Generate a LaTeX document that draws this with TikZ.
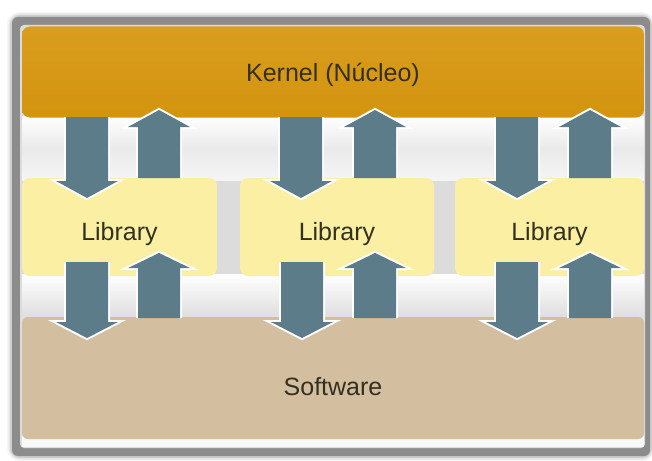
\documentclass[tikz,border=0pt]{standalone}
\usepackage{fontspec}
\setmainfont{Liberation Sans}
\definecolor{kernelc}{HTML}{D3940E}
\definecolor{kerneltop}{HTML}{D99D1F}
\definecolor{libc}{HTML}{FAEFA2}
\definecolor{softc}{HTML}{D3BE9F}
\definecolor{arrowc}{HTML}{5C7C89}
\definecolor{framec}{HTML}{8C8C8C}
\definecolor{bgc}{HTML}{DCDCDC}
\definecolor{txtc}{HTML}{33301F}
\newcommand\blockarr[4]{%
  \draw[white, line width=4pt, line join=miter]
    (#1-21,#2) -- (#1-21,#3) -- (#1-31,#3) -- (#1,#4) -- (#1+31,#3) -- (#1+21,#3) -- (#1+21,#2);
  \fill[arrowc]
    (#1-21,#2) -- (#1-21,#3) -- (#1-31,#3) -- (#1,#4) -- (#1+31,#3) -- (#1+21,#3) -- (#1+21,#2) -- cycle;
}
\tikzset{
  layer/.style={rounded corners=8pt, inner sep=0pt, text=txtc, font=\fontsize{25}{30}\selectfont, text depth=0pt},
  kernelbox/.style={layer, top color=kerneltop, bottom color=kernelc, minimum width=622pt, minimum height=91pt, text height=19pt},
  libbox/.style={layer, fill=libc, minimum height=98pt, text height=26pt},
  softbox/.style={layer, rounded corners=6pt, fill=softc, minimum width=622pt, minimum height=122pt, text height=34pt},
}
\begin{document}
\begin{tikzpicture}[x=1pt,y=-1pt]
\useasboundingbox (0,0) rectangle (652,460);
\fill[white] (0,0) rectangle (652,460);
% shadow of the frame
\foreach \w/\o in {10/0.04,7/0.06,4/0.10} {
  \draw[black, opacity=\o, line width=\w pt, rounded corners=8pt] (12,17) rectangle (650,456);
}
% frame
\fill[framec, rounded corners=6pt] (12,17) rectangle (650,456);
\fill[bgc, rounded corners=4pt] (20,25) rectangle (645,448);
% glowing gaps
\shade[top color=white, bottom color=white!70!bgc, middle color=white!40!bgc] (22,116) rectangle (644,180);
\shade[top color=white, bottom color=bgc, middle color=white!50!bgc] (22,274) rectangle (644,320);
\fill[white!80!bgc] (22,436) rectangle (644,447);
% layers
\node[kernelbox] (kernel) at (333,72) {Kernel (Núcleo)};
\node[libbox, minimum width=195pt] (lib1) at (119.5,227) {Library};
\node[libbox, minimum width=194pt] (lib2) at (337,227) {Library};
\node[libbox, minimum width=189pt] (lib3) at (549.5,227) {Library};
\node[softbox] (software) at (333,378) {Software};
% arrows kernel <-> libraries
\blockarr{87}{117}{181}{198}
\blockarr{159}{178}{127}{110}
\blockarr{301}{117}{181}{198}
\blockarr{375}{178}{127}{110}
\blockarr{517}{117}{181}{198}
\blockarr{590}{178}{127}{110}
% arrows libraries <-> software
\blockarr{87}{262}{322}{338}
\blockarr{159}{318}{268}{253}
\blockarr{302}{262}{322}{338}
\blockarr{375}{318}{268}{253}
\blockarr{517}{262}{322}{338}
\blockarr{590}{318}{268}{253}
\end{tikzpicture}
\end{document}
